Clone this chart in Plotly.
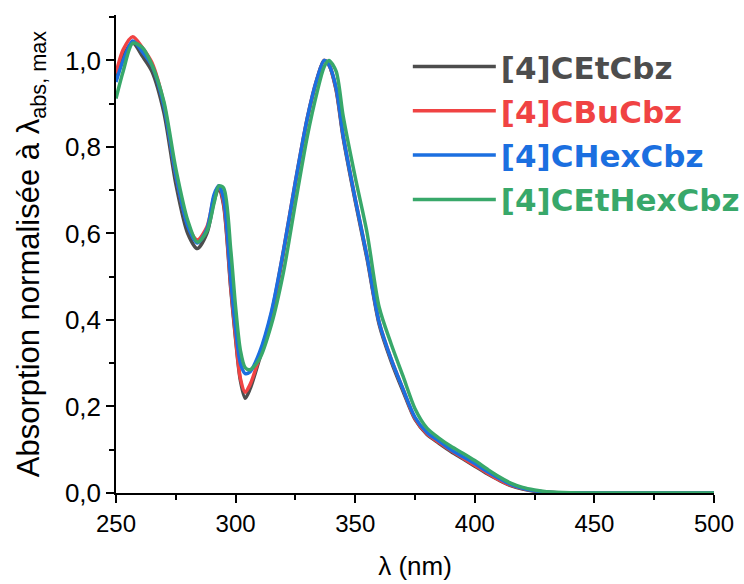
import plotly.graph_objects as go

wavelength = [250, 253, 257, 261, 265, 270, 275, 280, 284, 288, 291, 293, 295, 298, 300, 302, 304, 306,
              310, 315, 320, 325, 330, 334, 337, 339, 342, 345, 350, 355, 360, 365, 370, 375, 380, 385,
              390, 395, 400, 405, 410, 415, 420, 425, 430, 440, 450, 475, 500]

cetcbz = [0.955, 1.01, 1.04, 1.01, 0.975, 0.88, 0.715, 0.6, 0.565, 0.6, 0.675, 0.705, 0.665, 0.47, 0.355, 0.26, 0.219, 0.24,
          0.31, 0.41, 0.555, 0.715, 0.865, 0.955, 1.0, 0.99, 0.932, 0.82, 0.675, 0.54, 0.39, 0.305, 0.235, 0.17, 0.135, 0.115,
          0.096, 0.079, 0.062, 0.045, 0.03, 0.017, 0.009, 0.004, 0.002, 0.0, 0.0, 0.0, 0.0]

cbucbz = [0.97, 1.025, 1.055, 1.03, 0.995, 0.9, 0.735, 0.62, 0.585, 0.615, 0.685, 0.71, 0.67, 0.475, 0.36, 0.265, 0.233, 0.25,
          0.315, 0.415, 0.56, 0.72, 0.868, 0.957, 1.0, 0.99, 0.935, 0.825, 0.68, 0.545, 0.395, 0.31, 0.24, 0.172, 0.137, 0.117,
          0.098, 0.081, 0.064, 0.047, 0.031, 0.018, 0.01, 0.005, 0.002, 0.0, 0.0, 0.0, 0.0]

chexcbz = [0.95, 1.0, 1.045, 1.02, 0.988, 0.895, 0.735, 0.617, 0.578, 0.61, 0.69, 0.71, 0.68, 0.49, 0.38, 0.3, 0.276, 0.28,
           0.325, 0.42, 0.56, 0.72, 0.868, 0.957, 1.0, 0.99, 0.937, 0.825, 0.68, 0.545, 0.395, 0.31, 0.24, 0.175, 0.14, 0.12,
           0.1, 0.084, 0.068, 0.05, 0.034, 0.02, 0.011, 0.005, 0.002, 0.0, 0.0, 0.0, 0.0]

cethexcbz = [0.912, 0.975, 1.04, 1.03, 0.99, 0.905, 0.75, 0.63, 0.58, 0.605, 0.67, 0.71, 0.705, 0.56, 0.43, 0.33, 0.29, 0.285,
             0.31, 0.39, 0.51, 0.67, 0.825, 0.925, 0.985, 1.0, 0.975, 0.87, 0.73, 0.6, 0.43, 0.345, 0.27, 0.195, 0.15, 0.127,
             0.108, 0.092, 0.075, 0.056, 0.038, 0.023, 0.013, 0.007, 0.003, 0.0005, 0.0, 0.0, 0.0]

names = ["[4]CEtCbz", "[4]CBuCbz", "[4]CHexCbz", "[4]CEtHexCbz"]
colors = ["#4d4d4d", "#f04343", "#1b6fe0", "#38a86a"]
series = [cetcbz, cbucbz, chexcbz, cethexcbz]

x_ticks = [250, 300, 350, 400, 450, 500]
y_ticks = [0.0, 0.2, 0.4, 0.6, 0.8, 1.0]
y_tick_labels = ["0,0", "0,2", "0,4", "0,6", "0,8", "1,0"]

FONT = "Arial, Liberation Sans, sans-serif"

fig = go.Figure()
for i, (name, color, vals) in enumerate(zip(names, colors, series)):
    fig.add_trace(go.Scatter(
        x=wavelength, y=vals, mode="lines",
        line=dict(color=color, width=3.5, shape="spline", smoothing=0.8),
        name=f"<b><span style='color:{color}'>{name}</span></b>",
        legendgroup=f"g{i}",
    ))

fig.update_layout(
    width=744, height=584,
    margin=dict(l=116, r=30, t=15, b=91, autoexpand=False),
    plot_bgcolor="white", paper_bgcolor="white",
    font=dict(family=FONT, color="#000000"),
    showlegend=True,
    legend=dict(
        x=0.488, y=0.948, xanchor="left", yanchor="top",
        font=dict(family="DejaVu Sans, sans-serif", size=31),
        bgcolor="rgba(0,0,0,0)", tracegroupgap=1, itemwidth=83,
    ),
    xaxis=dict(
        range=[250, 500], tickvals=x_ticks, ticks="outside", ticklen=8, tickwidth=1.5,
        tickcolor="#000", showline=True, linecolor="#000", linewidth=1.5, showgrid=False,
        zeroline=False, tickfont=dict(family=FONT, size=24, color="#000"),
        minor=dict(dtick=25, ticks="outside", ticklen=5, tickwidth=1.5, tickcolor="#000"),
        title=dict(text="λ (nm)", font=dict(family=FONT, size=26), standoff=21),
    ),
    yaxis=dict(
        range=[0, 1.105], tickvals=y_ticks, ticktext=y_tick_labels, ticks="outside", ticklen=8, tickwidth=1.5,
        tickcolor="#000", showline=True, linecolor="#000", linewidth=1.5, showgrid=False,
        zeroline=False, tickfont=dict(family=FONT, size=26, color="#000"),
        minor=dict(dtick=0.1, ticks="outside", ticklen=5, tickwidth=1.5, tickcolor="#000"),
        title=dict(text="Absorption normalisée à λ<sub>abs, max</sub>",
                   font=dict(family=FONT, size=31), standoff=16),
    ),
)

fig.write_html("out.html", config={"displayModeBar": False},
               post_script="document.body.style.margin='0';")
